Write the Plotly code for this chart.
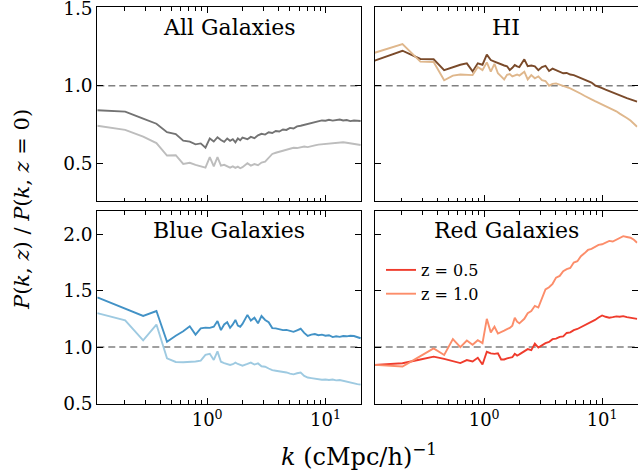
import plotly.graph_objects as go

# ---------------- data ----------------
K = [0.118, 0.203, 0.288, 0.373, 0.458, 0.543, 0.628, 0.713, 0.798, 0.883, 0.968,
     1.053, 1.138, 1.223, 1.308, 1.393, 1.478, 1.563, 1.648, 1.733, 1.818, 1.903, 1.988,
     2.19, 2.34, 2.51, 2.69, 2.88, 3.09, 3.31, 3.55, 3.80, 4.07, 4.37, 4.68, 5.01, 5.37,
     5.75, 6.17, 6.61, 7.08, 7.59, 8.13, 8.71, 9.33, 10.0, 10.7, 11.5, 12.3, 13.2, 14.1,
     15.1, 16.2, 17.4, 18.6, 19.8]

all_z05 = [0.842, 0.833, 0.788, 0.755, 0.700, 0.688, 0.646, 0.640, 0.622, 0.628, 0.600,
           0.660, 0.640, 0.668, 0.650, 0.638, 0.660, 0.645, 0.655, 0.635, 0.660, 0.648, 0.665,
           0.655, 0.670, 0.662, 0.680, 0.690, 0.685, 0.700, 0.695, 0.708, 0.705, 0.718, 0.715,
           0.728, 0.724, 0.738, 0.742, 0.748, 0.752, 0.760, 0.766, 0.772, 0.776, 0.774, 0.780,
           0.775, 0.778, 0.782, 0.776, 0.779, 0.772, 0.776, 0.774, 0.772]
all_z10 = [0.742, 0.715, 0.672, 0.630, 0.550, 0.552, 0.496, 0.503, 0.490, 0.480, 0.472,
           0.540, 0.480, 0.540, 0.485, 0.490, 0.478, 0.472, 0.480, 0.470, 0.478, 0.468, 0.475,
           0.500, 0.485, 0.495, 0.488, 0.505, 0.510, 0.535, 0.560, 0.568, 0.575, 0.582, 0.590,
           0.595, 0.600, 0.598, 0.605, 0.608, 0.604, 0.612, 0.615, 0.620, 0.622, 0.625, 0.628,
           0.630, 0.632, 0.630, 0.635, 0.632, 0.628, 0.625, 0.620, 0.618]

hi_z05 = [1.161, 1.225, 1.172, 1.170, 1.100, 1.120, 1.135, 1.144, 1.092, 1.144, 1.135,
          1.200, 1.165, 1.155, 1.145, 1.140, 1.130, 1.125, 1.100, 1.115, 1.133, 1.125, 1.120,
          1.170, 1.125, 1.130, 1.125, 1.100, 1.120, 1.128, 1.095, 1.110, 1.100, 1.085, 1.080,
          1.082, 1.072, 1.068, 1.058, 1.045, 1.040, 1.030, 1.020, 1.002, 0.996, 0.985, 0.975,
          0.965, 0.955, 0.947, 0.935, 0.928, 0.920, 0.912, 0.905, 0.897]
hi_z10 = [1.212, 1.268, 1.155, 1.153, 1.035, 1.065, 1.072, 1.070, 1.068, 1.120, 1.100,
          1.150, 1.090, 1.140, 1.080, 1.060, 1.040, 1.070, 1.075, 1.060, 1.068, 1.072, 1.065,
          1.090, 1.040, 1.068, 1.048, 1.060, 1.035, 1.030, 1.000, 1.012, 1.015, 1.005, 0.995,
          0.990, 0.982, 0.972, 0.962, 0.948, 0.935, 0.925, 0.912, 0.900, 0.890, 0.880, 0.868,
          0.860, 0.848, 0.835, 0.820, 0.808, 0.792, 0.775, 0.755, 0.735]

blue_z05 = [1.441, 1.336, 1.275, 1.319, 1.047, 1.100, 1.140, 1.184, 1.110, 1.165, 1.172,
            1.170, 1.180, 1.230, 1.150, 1.200, 1.220, 1.170, 1.200, 1.240, 1.190, 1.180, 1.205,
            1.285, 1.235, 1.260, 1.210, 1.275, 1.240, 1.220, 1.168, 1.165, 1.160, 1.150, 1.152,
            1.140, 1.135, 1.148, 1.162, 1.125, 1.098, 1.110, 1.115, 1.105, 1.110, 1.100, 1.105,
            1.088, 1.095, 1.090, 1.098, 1.095, 1.100, 1.098, 1.090, 1.078]
blue_z10 = [1.301, 1.237, 1.060, 1.199, 0.900, 0.868, 0.866, 0.866, 0.872, 0.880, 0.930,
            0.940, 0.886, 0.962, 0.870, 0.858, 0.850, 0.842, 0.848, 0.862, 0.850, 0.840, 0.835,
            0.850, 0.862, 0.845, 0.855, 0.830, 0.826, 0.810, 0.795, 0.790, 0.786, 0.778, 0.775,
            0.765, 0.758, 0.768, 0.774, 0.745, 0.730, 0.725, 0.720, 0.715, 0.710, 0.712, 0.708,
            0.712, 0.705, 0.708, 0.700, 0.694, 0.688, 0.680, 0.672, 0.667]

red_z05 = [0.842, 0.857, 0.890, 0.915, 0.895, 0.875, 0.858, 0.885, 0.872, 0.905, 0.845,
           0.958, 0.944, 0.940, 0.945, 0.890, 0.890, 0.900, 0.905, 0.910, 0.940, 0.925, 0.935,
           0.965, 0.982, 0.972, 1.030, 0.995, 1.015, 1.035, 1.045, 1.070, 1.075, 1.090, 1.095,
           1.125, 1.130, 1.150, 1.160, 1.175, 1.190, 1.210, 1.225, 1.240, 1.262, 1.280, 1.268,
           1.260, 1.265, 1.272, 1.268, 1.274, 1.265, 1.260, 1.258, 1.250]
red_z10 = [0.842, 0.828, 0.920, 0.988, 0.930, 1.070, 1.000, 1.058, 1.020, 1.060, 1.035,
           1.250, 1.130, 1.180, 1.120, 1.130, 1.145, 1.158, 1.170, 1.190, 1.260, 1.225, 1.210,
           1.250, 1.300, 1.318, 1.365, 1.350, 1.430, 1.510, 1.530, 1.560, 1.615, 1.630, 1.672,
           1.690, 1.700, 1.748, 1.760, 1.805, 1.830, 1.860, 1.870, 1.890, 1.905, 1.910, 1.925,
           1.940, 1.935, 1.950, 1.965, 1.982, 1.975, 1.968, 1.950, 1.924]

PANEL_TITLES = ["All Galaxies", "HI", "Blue Galaxies", "Red Galaxies"]
SERIES_NAMES = ["z = 0.5", "z = 1.0"]
X_TICK_VALS = [1, 10]
X_TICK_TEXT = ["10<sup>0</sup>", "10<sup>1</sup>"]
X_MINOR_VALS = [0.2, 0.3, 0.4, 0.5, 0.6, 0.7, 0.8, 0.9, 2, 3, 4, 5, 6, 7, 8, 9, 20]
Y_TICKS_TOP = [0.5, 1.0, 1.5]
Y_TICKS_BOT = [0.5, 1.0, 1.5, 2.0]

# ---------------- styling ----------------
W, H = 638, 474
FONT = "DejaVu Serif"
colors = [("#737373", "#bdbdbd"), ("#7a4a2a", "#dfb78c"),
          ("#4292c6", "#9ecae1"), ("#ef3b2c", "#fc8d6a")]
series = [(all_z05, all_z10), (hi_z05, hi_z10), (blue_z05, blue_z10), (red_z05, red_z10)]

def px_x(p):
    return p / W

def px_y(p):
    return 1 - p / H

xdom = [[px_x(97.3), px_x(361.0)], [px_x(374.7), px_x(637.5)]]
ydom = [[px_y(201.0), px_y(7.3)], [px_y(403.5), px_y(211.0)]]

fig = go.Figure()

for i in range(4):
    ax = "" if i == 0 else str(i + 1)
    for j in range(2):
        fig.add_trace(go.Scatter(
            x=K, y=series[i][j], mode="lines",
            line=dict(color=colors[i][j], width=1.9),
            name=SERIES_NAMES[j], showlegend=(i == 3),
            xaxis="x" + ax, yaxis="y" + ax))
    fig.add_shape(type="line", xref="x" + ax + " domain", yref="y" + ax,
                  x0=0, x1=1, y0=1.0, y1=1.0,
                  line=dict(color="#808080", width=1.6, dash="7px,4px"), layer="below")

layout = dict(width=W, height=H, autosize=False,
              margin=dict(l=0, r=0, t=0, b=0, pad=0),
              paper_bgcolor="white", plot_bgcolor="white",
              font=dict(family=FONT, color="black", size=18),
              showlegend=True,
              legend=dict(x=px_x(381), y=px_y(253), xanchor="left", yanchor="top",
                          bgcolor="rgba(0,0,0,0)", font=dict(family=FONT, size=16),
                          tracegroupgap=0, itemwidth=30))

for i in range(4):
    r, c = divmod(i, 2)
    ax = "" if i == 0 else str(i + 1)
    yt = Y_TICKS_TOP if r == 0 else Y_TICKS_BOT
    xa = dict(type="log", range=[-0.928, 1.30], domain=xdom[c], anchor="y" + ax,
              automargin=False, ticklabeloverflow="allow",
              showline=True, linecolor="black", linewidth=1, mirror="allticks",
              ticks="inside", ticklen=6, tickwidth=1, tickcolor="black",
              tickmode="array", tickvals=X_TICK_VALS, ticktext=X_TICK_TEXT,
              showticklabels=(r == 1), showgrid=False, zeroline=False,
              tickfont=dict(family=FONT, size=18),
              minor=dict(tickmode="array", tickvals=X_MINOR_VALS, ticks="inside",
                         ticklen=3.5, tickwidth=1, tickcolor="black", showgrid=False))
    ya = dict(range=[0.257, 1.505] if r == 0 else [0.5, 2.205],
              domain=ydom[r], anchor="x" + ax, automargin=False,
              ticklabeloverflow="allow",
              showline=True, linecolor="black", linewidth=1, mirror="allticks",
              ticks="inside", ticklen=6, tickwidth=1, tickcolor="black",
              tickmode="array", tickvals=yt, ticktext=[f"{v:.1f}" for v in yt],
              showticklabels=(c == 0), showgrid=False, zeroline=False,
              tickfont=dict(family=FONT, size=18.5))
    layout["xaxis" + ax] = xa
    layout["yaxis" + ax] = ya

fig.update_layout(**layout)

title_pos = [(229, 28), (506, 28), (229, 231), (506, 231)]
for t, (tx, ty) in zip(PANEL_TITLES, title_pos):
    fig.add_annotation(text=t, x=px_x(tx), y=px_y(ty), xref="paper", yref="paper",
                       xanchor="center", yanchor="middle", showarrow=False,
                       font=dict(family=FONT, size=22, color="black"))

fig.add_annotation(text="<i>k</i> (cMpc/h)<sup>−1</sup>", x=px_x(359), y=px_y(455),
                   xref="paper", yref="paper", xanchor="center", yanchor="middle",
                   showarrow=False, font=dict(family=FONT, size=24, color="black"))
fig.add_annotation(text="<i>P</i>(<i>k</i>, <i>z</i>) / <i>P</i>(<i>k</i>, <i>z</i> = 0)",
                   x=px_x(22), y=px_y(210), xref="paper", yref="paper",
                   xanchor="center", yanchor="middle", textangle=-90,
                   showarrow=False, font=dict(family=FONT, size=21, color="black"))

fig.write_html("out.html", config={"displayModeBar": False},
               post_script="document.body.style.margin='0px';document.body.style.padding='0px';")
